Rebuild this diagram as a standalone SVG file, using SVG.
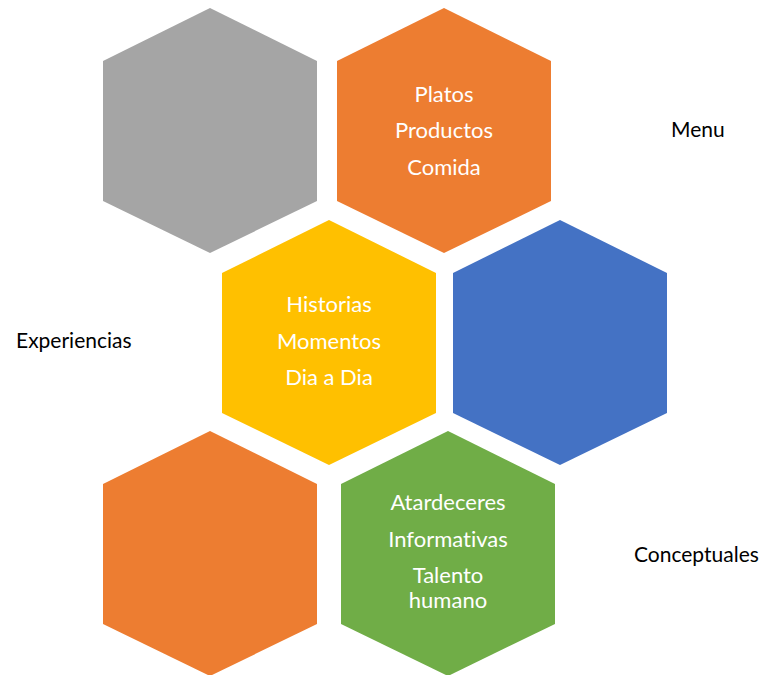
<svg xmlns="http://www.w3.org/2000/svg" width="767" height="675" viewBox="0 0 767 675">
  <style>
    text { font-variant-ligatures: none; }
    .in { font-family: Lato, "Open Sans", sans-serif; font-size: 22px; fill: #FFFFFF; text-anchor: middle; }
    .out { font-family: Lato, "Open Sans", sans-serif; font-size: 21px; fill: #000000; }
  </style>
  <defs>
    <!-- pointy-top hexagon, 214 wide, 245 tall, origin at its top vertex -->
    <polygon id="hex" points="0,0 107,53 107,193 0,245 -107,193 -107,53"/>
  </defs>
  <rect width="767" height="675" fill="#FFFFFF"/>

  <g id="hex-gray">
    <use href="#hex" x="210" y="8" fill="#A5A5A5"/>
  </g>

  <g id="hex-menu">
    <use href="#hex" x="444" y="8" fill="#ED7D31"/>
    <text class="in" x="444" y="102">Platos</text>
    <text class="in" x="444" y="138">Productos</text>
    <text class="in" x="444" y="175">Comida</text>
  </g>

  <g id="hex-experiencias">
    <use href="#hex" x="329" y="220" fill="#FFC000"/>
    <text class="in" x="329" y="312">Historias</text>
    <text class="in" x="329" y="349">Momentos</text>
    <text class="in" x="329" y="385">Dia a Dia</text>
  </g>

  <g id="hex-blue">
    <use href="#hex" x="560" y="220" fill="#4472C4"/>
  </g>

  <g id="hex-orange-low">
    <use href="#hex" x="210" y="431" fill="#ED7D31"/>
  </g>

  <g id="hex-conceptuales">
    <use href="#hex" x="448" y="431" fill="#70AD47"/>
    <text class="in" x="448" y="510">Atardeceres</text>
    <text class="in" x="448" y="547">Informativas</text>
    <text class="in" x="448" y="583">Talento</text>
    <text class="in" x="448" y="608">humano</text>
  </g>

  <g id="labels">
    <text class="out" x="671" y="137">Menu</text>
    <text class="out" x="16" y="348">Experiencias</text>
    <text class="out" x="634" y="562">Conceptuales</text>
  </g>

  <g id="connectors"/>
</svg>
